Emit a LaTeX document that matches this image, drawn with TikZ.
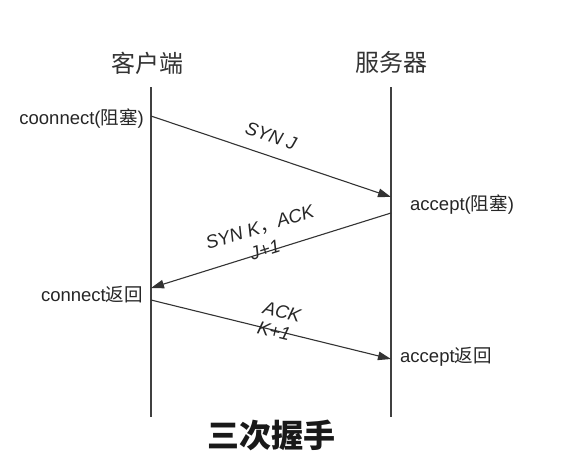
\documentclass[tikz,border=0pt]{standalone}
\usepackage{fontspec}
\setmainfont{Liberation Sans}
\newfontfamily\cjk{Noto Sans CJK SC}
\usetikzlibrary{arrows.meta}
\begin{document}
\begin{tikzpicture}[x=1pt,y=-1pt,
  lifeline/.style={draw=black!75, line width=1.2pt},
  msg/.style={draw=black!80, line width=1.1pt, -{Triangle[length=13pt,width=8.5pt]}},
  lbl/.style={font=\fontsize{18.5}{20}\selectfont, text=black!85, inner sep=0pt},
  mlbl/.style={font=\fontsize{18.5}{20}\selectfont\itshape, text=black!85, inner sep=0pt},
  head/.style={font=\fontsize{24}{26}\selectfont\cjk, text=black!80, inner sep=0pt},
  title/.style={font=\fontsize{32}{34}\selectfont\cjk\bfseries, text=black!90, inner sep=0pt}]
\useasboundingbox (0,0) rectangle (568,461);
% lifelines
\coordinate (ct) at (151,87);
\coordinate (cb) at (151,417);
\coordinate (st) at (391,87);
\coordinate (sb) at (391,417);
\draw[lifeline] (ct) -- (cb);
\draw[lifeline] (st) -- (sb);
% heads
\node[head] (hc) at (147,63) {客户端};
\node[head] (hs) at (391,62) {服务器};
% event points
\coordinate (c1) at (151,116);
\coordinate (s1) at (391,197);
\coordinate (s2) at (391,213);
\coordinate (c2) at (151,288);
\coordinate (c3) at (151,300);
\coordinate (s3) at (391,359);
% side labels
\node[lbl, anchor=east] (l1) at (144,119) {coonnect({\cjk 阻塞})};
\node[lbl, anchor=west] (l2) at (410,205) {accept({\cjk 阻塞})};
\node[lbl, anchor=east] (l3) at (143,295) {connect{\cjk 返回}};
\node[lbl, anchor=west] (l4) at (400,357) {accept{\cjk 返回}};
% messages
\draw[msg] (c1) -- (s1);
\draw[msg] (s2) -- (c2);
\draw[msg] (c3) -- (s3);
% message labels
\node[mlbl, rotate=-18.4] (m1) at (271,136) {SYN J};
\node[mlbl, rotate=17.4] (m2) at (260,228) {SYN K{\cjk ，}ACK};
\node[mlbl, rotate=17.4] (m2b) at (265,250) {J+1};
\node[mlbl, rotate=-13.7] (m3) at (282,312) {ACK};
\node[mlbl, rotate=-13.7] (m3b) at (274,331) {K+1};
% title
\node[title] (t) at (271,435) {三次握手};
\end{tikzpicture}
\end{document}
